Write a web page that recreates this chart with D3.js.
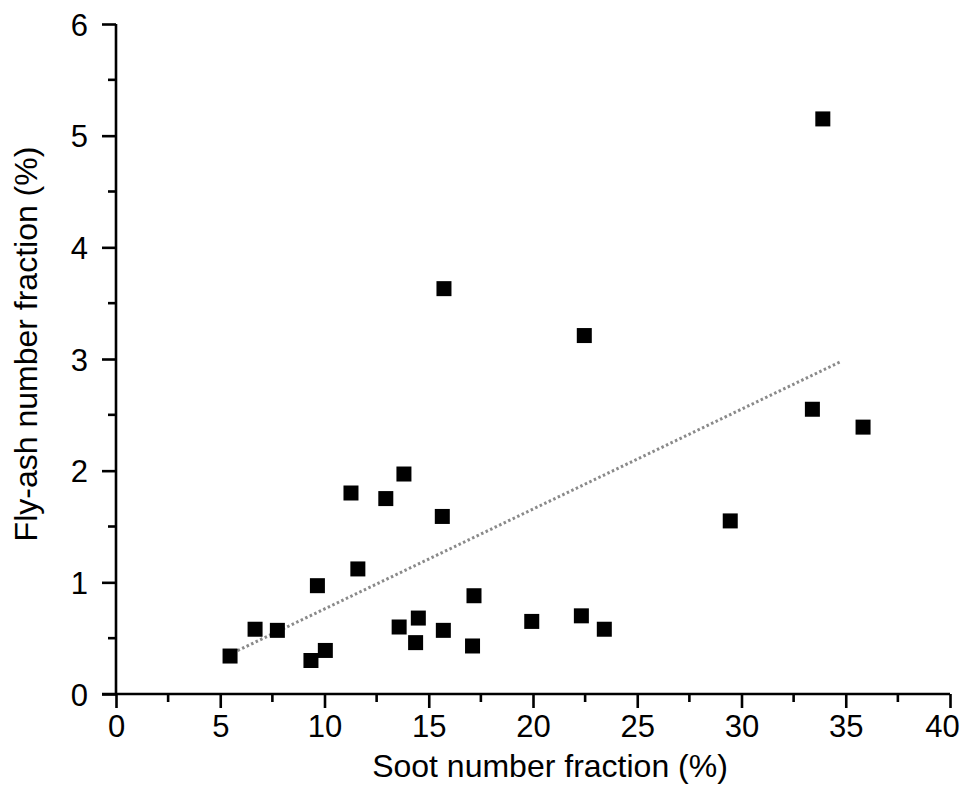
<!DOCTYPE html>
<html>
<head>
<meta charset="utf-8">
<script src="https://cdn.jsdelivr.net/npm/d3@7"></script>
<style>
  html, body { margin: 0; padding: 0; background: #fff; }
  svg { display: block; }
  text { font-family: "Liberation Sans", Arial, Helvetica, sans-serif; fill: #000; }
</style>
</head>
<body>
<svg id="chart" width="965" height="787"></svg>
<script>
// Data
const sootFraction = [5.47, 6.67, 7.74, 9.35, 10.04, 9.66, 11.27, 11.6, 12.94, 13.58, 13.81, 14.37, 14.5, 15.65, 15.7, 15.73, 17.1, 17.17, 19.94, 22.32, 22.46, 23.42, 29.46, 33.4, 33.9, 35.83];
const flyAshFraction = [0.34, 0.58, 0.57, 0.30, 0.39, 0.97, 1.80, 1.12, 1.75, 0.60, 1.97, 0.46, 0.68, 1.59, 0.57, 3.63, 0.43, 0.88, 0.65, 0.70, 3.21, 0.58, 1.55, 2.55, 5.15, 2.39];
const trendX = [5.4, 34.8];
const trendY = [0.35, 2.98];
const xTicks = [0, 5, 10, 15, 20, 25, 30, 35, 40];
const yTicks = [0, 1, 2, 3, 4, 5, 6];
const xTitle = "Soot number fraction (%)";
const yTitle = "Fly-ash number fraction (%)";

const svg = d3.select("#chart");
const x = d3.scaleLinear().domain([0, 40]).range([116, 950]);
const y = d3.scaleLinear().domain([0, 6]).range([694, 24]);

const axisW = 2.6;

// Minor ticks
const xMinor = d3.range(2.5, 40, 5);
const yMinor = d3.range(0.5, 6, 1);

const gx = svg.append("g").attr("transform", `translate(0,${y(0)})`);
gx.call(d3.axisBottom(x).tickValues(xTicks).tickSize(14).tickSizeOuter(0).tickPadding(7).tickFormat(d3.format("d")));
gx.append("g").selectAll("line").data(xMinor).join("line")
  .attr("x1", d => x(d)).attr("x2", d => x(d)).attr("y1", 0).attr("y2", 8)
  .attr("stroke", "#000").attr("stroke-width", axisW);

const gy = svg.append("g").attr("transform", `translate(${x(0)},0)`);
gy.call(d3.axisLeft(y).tickValues(yTicks).tickSize(14).tickSizeOuter(0).tickPadding(14).tickFormat(d3.format("d")));
gy.append("g").selectAll("line").data(yMinor).join("line")
  .attr("x1", 0).attr("x2", -8).attr("y1", d => y(d)).attr("y2", d => y(d))
  .attr("stroke", "#000").attr("stroke-width", axisW);

[gx, gy].forEach(g => {
  g.selectAll(".domain").attr("stroke", "#000").attr("stroke-width", axisW);
  g.selectAll(".tick line").attr("stroke", "#000").attr("stroke-width", axisW);
  g.selectAll(".tick text").style("font-size", "31px").attr("font-family", "Liberation Sans, Arial, sans-serif");
});
gx.select(".domain").attr("d", `M${x(0) - 14},0H${x(40)}`);
gy.select(".domain").attr("d", `M0,${y(0)}V${y(6)}`);
gx.selectAll(".tick text").filter(d => d === 40).attr("dx", -8);
gy.selectAll(".tick text").attr("dy", "0.36em");

// Trend line
svg.append("line")
  .attr("x1", x(trendX[0])).attr("y1", y(trendY[0]))
  .attr("x2", x(trendX[1])).attr("y2", y(trendY[1]))
  .attr("stroke", "#8a8a8a").attr("stroke-width", 3)
  .attr("stroke-dasharray", "2.5,2.5");

// Points
const pts = sootFraction.map((v, i) => ({ x: v, y: flyAshFraction[i] }));
const s = 15;
svg.append("g").selectAll("rect").data(pts).join("rect")
  .attr("x", d => x(d.x) - s / 2).attr("y", d => y(d.y) - s / 2)
  .attr("width", s).attr("height", s).attr("fill", "#000");

// Titles
svg.append("text").attr("x", 550).attr("y", 777).attr("text-anchor", "middle")
  .style("font-size", "32px").text(xTitle);
svg.append("text").attr("transform", "translate(37,344) rotate(-90)").attr("text-anchor", "middle")
  .style("font-size", "32px").text(yTitle);
</script>
</body>
</html>
